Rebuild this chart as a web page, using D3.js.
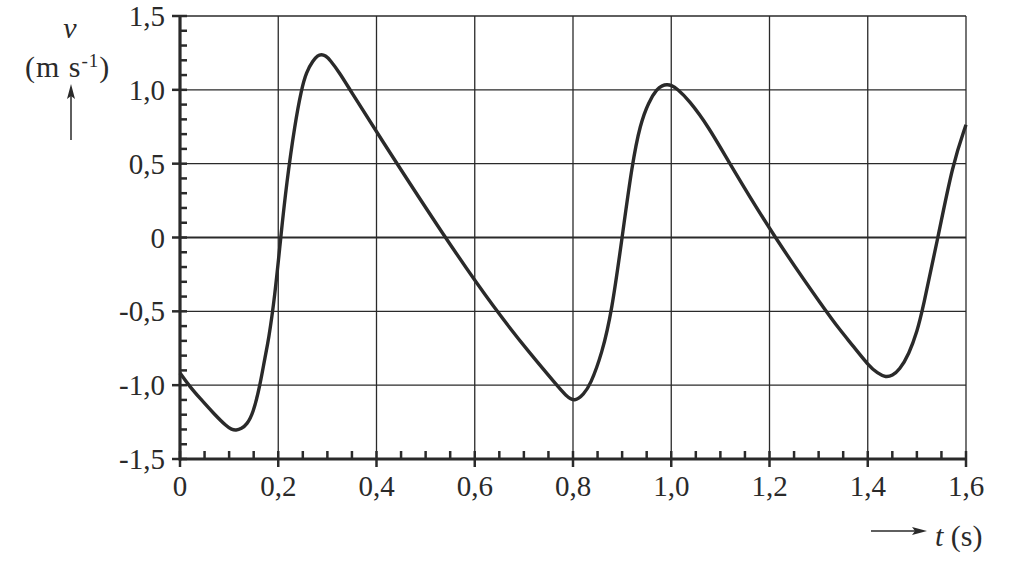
<!DOCTYPE html>
<html><head><meta charset="utf-8">
<script src="https://cdn.jsdelivr.net/npm/d3@7"></script>
<style>
html,body{margin:0;padding:0;background:#fff;}
svg{display:block;}
</style></head>
<body>
<svg id="c" width="1013" height="573"></svg>
<script>
// data
const tValues = [0, 0.020, 0.041, 0.068, 0.095, 0.105, 0.114, 0.125, 0.136, 0.149, 0.163, 0.173, 0.180, 0.193, 0.205, 0.217, 0.234, 0.247, 0.257, 0.271, 0.280, 0.288, 0.296, 0.305, 0.326, 0.346, 0.400, 0.539, 0.644, 0.713, 0.767, 0.785, 0.804, 0.822, 0.835, 0.859, 0.879, 0.900, 0.9205, 0.937, 0.954, 0.971, 0.982, 0.991, 1.000, 1.012, 1.036, 1.076, 1.119, 1.210, 1.315, 1.342, 1.369, 1.401, 1.420, 1.437, 1.450, 1.464, 1.484, 1.501, 1.511, 1.543, 1.573, 1.600];
const vValues = [-0.917, -1.01, -1.09, -1.19, -1.28, -1.30, -1.306, -1.295, -1.267, -1.19, -1.0, -0.81, -0.70, -0.40, 0.0, 0.37, 0.77, 1.0, 1.12, 1.199, 1.232, 1.24, 1.232, 1.205, 1.11, 1.0, 0.715, 0.0, -0.50, -0.787, -1.0, -1.07, -1.115, -1.06, -1.0, -0.787, -0.50, 0.0, 0.50, 0.77, 0.918, 1.007, 1.03, 1.036, 1.032, 1.007, 0.93, 0.75, 0.50, 0.0, -0.50, -0.62, -0.73, -0.865, -0.92, -0.948, -0.935, -0.90, -0.79, -0.63, -0.50, 0.0, 0.50, 0.764];
const xTicks = [0, 0.2, 0.4, 0.6, 0.8, 1.0, 1.2, 1.4, 1.6];
const xTickLabels = ["0", "0,2", "0,4", "0,6", "0,8", "1,0", "1,2", "1,4", "1,6"];
const yTicks = [-1.5, -1.0, -0.5, 0, 0.5, 1.0, 1.5];
const yTickLabels = ["-1,5", "-1,0", "-0,5", "0", "0,5", "1,0", "1,5"];
const xMinor = d3.range(0, 33).map(i => i * 0.05);
const yMinor = d3.range(0, 31).map(i => -1.5 + i * 0.1);

const ink = "#2a2a2a";
const FONT = "'Liberation Serif', 'Noto Serif', 'DejaVu Serif', 'Tinos', 'FreeSerif', 'Nimbus Roman', 'Times New Roman', Times, serif";
const svg = d3.select("#c");
const x = d3.scaleLinear().domain([0, 1.6]).range([180, 966]);
const y = d3.scaleLinear().domain([-1.5, 1.5]).range([459, 16]);

// grid
const g = svg.append("g");
g.selectAll("line.vg").data(xTicks.slice(1)).join("line")
  .attr("x1", d => x(d)).attr("x2", d => x(d)).attr("y1", y(1.5)).attr("y2", y(-1.5))
  .attr("stroke", ink).attr("stroke-width", 1.3);
g.selectAll("line.hg").data(yTicks.slice(1)).join("line")
  .attr("x1", x(0)).attr("x2", x(1.6)).attr("y1", d => y(d)).attr("y2", d => y(d))
  .attr("stroke", ink).attr("stroke-width", d => d === 0 ? 2 : 1.3);

// minor ticks
g.selectAll("line.xm").data(xMinor).join("line")
  .attr("x1", d => x(d)).attr("x2", d => x(d)).attr("y1", y(-1.5)).attr("y2", y(-1.5) - 8)
  .attr("stroke", ink).attr("stroke-width", 2.5);
g.selectAll("line.ym").data(yMinor).join("line")
  .attr("x1", x(0)).attr("x2", x(0) + 7).attr("y1", d => y(d)).attr("y2", d => y(d))
  .attr("stroke", ink).attr("stroke-width", 2.5);
// major ticks outward
g.selectAll("line.xM").data(xTicks).join("line")
  .attr("x1", d => x(d)).attr("x2", d => x(d)).attr("y1", y(-1.5)).attr("y2", y(-1.5) + 8)
  .attr("stroke", ink).attr("stroke-width", 2.5);
g.selectAll("line.yM").data(yTicks).join("line")
  .attr("x1", x(0) - 8).attr("x2", x(0)).attr("y1", d => y(d)).attr("y2", d => y(d))
  .attr("stroke", ink).attr("stroke-width", 2.5);

// axes lines
g.append("line").attr("x1", x(0)).attr("x2", x(0)).attr("y1", y(1.5) - 1).attr("y2", y(-1.5) + 1.5)
  .attr("stroke", ink).attr("stroke-width", 3.2);
g.append("line").attr("x1", x(0)).attr("x2", x(1.6) + 1).attr("y1", y(-1.5)).attr("y2", y(-1.5))
  .attr("stroke", ink).attr("stroke-width", 3.2);

// tick labels
g.selectAll("text.xl").data(xTicks).join("text")
  .attr("x", d => x(d)).attr("y", y(-1.5) + 37).attr("text-anchor", "middle")
  .attr("font-family", FONT).attr("fill", ink)
  .attr("font-size", 29).text((d, i) => xTickLabels[i]);
g.selectAll("text.yl").data(yTicks).join("text")
  .attr("x", x(0) - 15).attr("y", d => y(d) + 10).attr("text-anchor", "end")
  .attr("font-family", FONT).attr("fill", ink)
  .attr("font-size", 29).text((d, i) => yTickLabels[i]);

// curve
const pts = tValues.map((t, i) => [t, vValues[i]]);
svg.append("path").datum(pts)
  .attr("d", d3.line().x(d => x(d[0])).y(d => y(d[1])).curve(d3.curveBasis))
  .attr("fill", "none").attr("stroke", ink).attr("stroke-width", 3.4).attr("stroke-linejoin", "round");

// y axis label
svg.append("text").attr("x", 70).attr("y", 38).attr("text-anchor", "middle")
  .attr("font-family", FONT).attr("fill", ink)
  .attr("font-size", 30).attr("font-style", "italic").text("v");
const yl = svg.append("text").attr("x", 25).attr("y", 77).attr("font-size", 30)
  .attr("letter-spacing", 1).attr("font-family", FONT).attr("fill", ink);
yl.append("tspan").text("(m s");
yl.append("tspan").attr("font-size", 19).attr("dy", -10).text("-1");
yl.append("tspan").attr("dy", 10).text(")");
// arrow up
svg.append("line").attr("x1", 71).attr("x2", 71).attr("y1", 140).attr("y2", 95)
  .attr("stroke", ink).attr("stroke-width", 1.5);
svg.append("path").attr("d", "M71,84 L67,99 L71,96 L75,99 Z").attr("fill", ink);

// x axis label
svg.append("line").attr("x1", 871).attr("x2", 915).attr("y1", 531).attr("y2", 531)
  .attr("stroke", ink).attr("stroke-width", 1.5);
svg.append("path").attr("d", "M927,531 L912,527 L915,531 L912,535 Z").attr("fill", ink);
const xl = svg.append("text").attr("x", 935).attr("y", 546).attr("font-size", 30)
  .attr("font-family", FONT).attr("fill", ink);
xl.append("tspan").attr("font-style", "italic").text("t");
xl.append("tspan").text(" (s)");
</script>
</body></html>
